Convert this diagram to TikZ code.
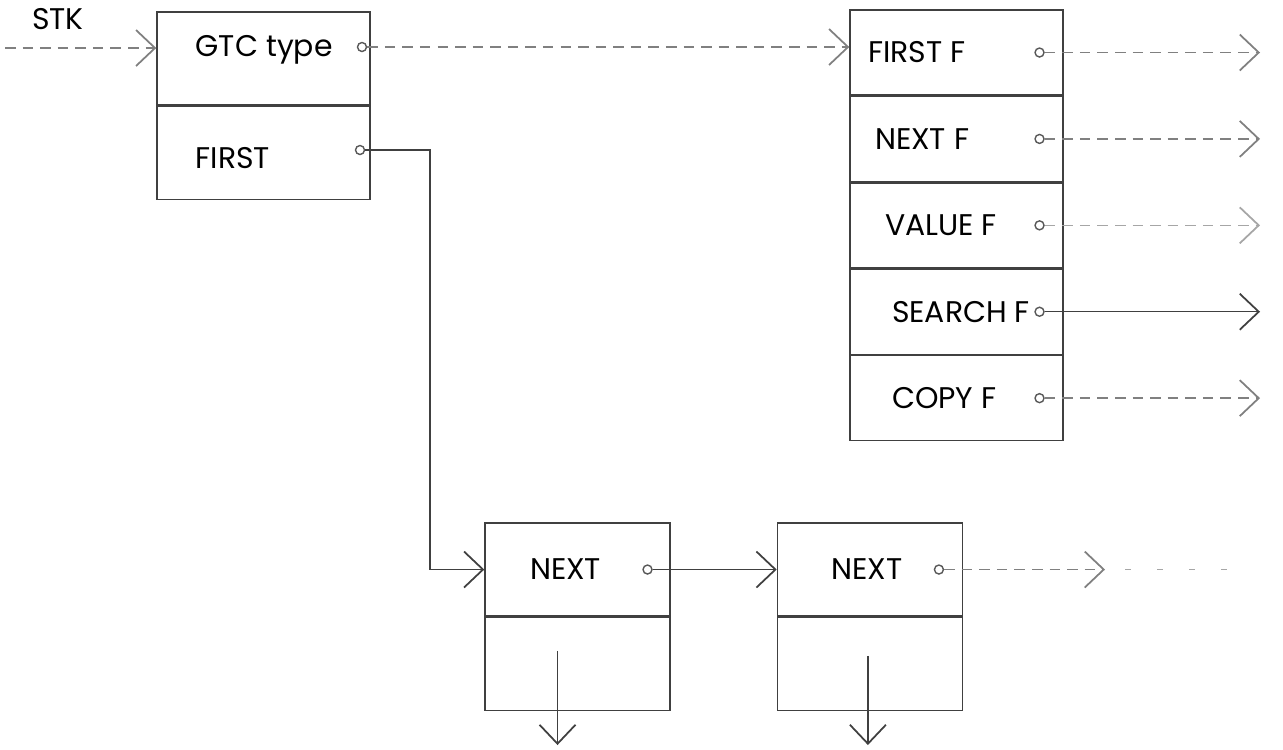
\documentclass[tikz,border=0pt]{standalone}
\usepackage{fontspec}
\setsansfont{Poppins}
\usetikzlibrary{arrows.meta,positioning}

\begin{document}
\begin{tikzpicture}[
  cell/.style={draw=black!75, thin, minimum width=2.13cm, minimum height=0.85cm, inner sep=0pt},
  nxcell/.style={cell, minimum width=1.85cm, minimum height=0.93cm},
  lbl/.style={font=\sffamily\fontsize{8.5}{10}\selectfont, inner sep=0pt},
  ptr/.style={circle, draw=black!65, minimum size=0.9mm, inner sep=0pt},
  link/.style={draw=black!75, thin, -{Straight Barb[length=1.9mm,width=3.6mm,line width=0.5pt]}},
  faint/.style={link, draw=black!50, densely dashed}
]
\useasboundingbox (0,0) rectangle (12.83,-7.49);

% GTC record
\node[lbl] (stk) at (0.58,-0.19) {STK};
\node[cell, minimum height=0.93cm] (gtc1) at (2.635,-0.585) {};
\node[cell, minimum height=0.93cm, below=0pt of gtc1] (gtc2) {};
\node[lbl, anchor=west] (gtctxt) at (1.95,-0.50) {GTC type};
\node[lbl, anchor=west] (firsttxt) at (1.95,-1.58) {FIRST};
\node[ptr] (gp1) at (3.62,-0.47) {};
\node[ptr] (gp2) at (3.60,-1.50) {};
\coordinate (stkin) at (0.05,-0.48);
\draw[faint] (stkin) -- (stkin -| gtc1.west);

% function record
\node[cell] (fn1) at (9.565,-0.525) {};
\foreach \i [count=\j from 2] in {1,...,4}
  \node[cell, below=0pt of fn\i] (fn\j) {};
\foreach \i/\t/\d in {1/FIRST F/0.18cm, 2/NEXT F/0.25cm, 3/VALUE F/0.35cm, 4/SEARCH F/0.42cm, 5/COPY F/0.42cm} {
  \node[lbl, right=\d of fn\i.west] (ft\i) {\t};
  \node[ptr, left=0.19cm of fn\i.east] (fp\i) {};
}
\draw[faint] (gp1) -- (gp1 -| fn1.west);
\coordinate (fout) at (12.60,0);
\draw[faint] (fp1) -- (fp1 -| fout);
\draw[faint] (fp2) -- (fp2 -| fout);
\draw[faint, draw=black!35] (fp3) -- (fp3 -| fout);
\draw[link] (fp4) -- (fp4 -| fout);
\draw[faint] (fp5) -- (fp5 -| fout);

% NEXT records
\node[nxcell] (nx1) at (5.775,-5.695) {};
\node[nxcell, below=0pt of nx1] (nx1b) {};
\node[nxcell, right=1.06cm of nx1] (nx2) {};
\node[nxcell, below=0pt of nx2] (nx2b) {};
\node[lbl, right=0.45cm of nx1.west] (n1txt) {NEXT};
\node[lbl, right=0.54cm of nx2.west] (n2txt) {NEXT};
\node[ptr, left=0.18cm of nx1.east] (np1) {};
\node[ptr, left=0.19cm of nx2.east] (np2) {};

\coordinate (fbend) at (4.30,-1.50);
\draw[link] (gp2) -- (fbend) |- (nx1.west);
\draw[link] (np1) -- (nx2.west);
\coordinate (nout) at (11.05,0);
\coordinate (ncont0) at (11.25,0);
\coordinate (ncont) at (12.50,0);
\draw[faint] (np2) -- (np2 -| nout);
\draw[draw=black!35, dash pattern=on 0.6mm off 2.6mm] (np2 -| ncont0) -- (np2 -| ncont);

% down links
\coordinate (dbot) at (0,-7.45);
\coordinate (d1) at ([xshift=-2mm,yshift=1.3mm]nx1b.center);
\coordinate (d2) at ([xshift=-0.2mm,yshift=0.8mm]nx2b.center);
\draw[link] (d1) -- (d1 |- dbot);
\draw[link] (d2) -- (d2 |- dbot);
\end{tikzpicture}
\end{document}
